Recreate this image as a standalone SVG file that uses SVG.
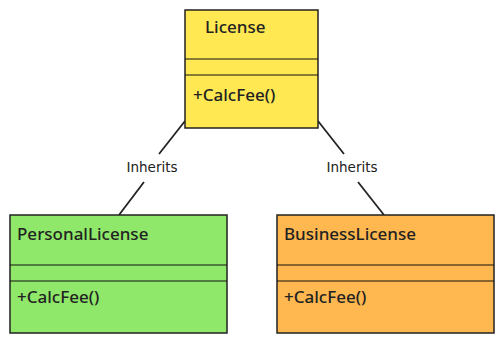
<svg xmlns="http://www.w3.org/2000/svg" width="504" height="344" viewBox="0 0 504 344">
<style>
.box{stroke:#222;stroke-width:1.5}
.div{stroke:#111;stroke-width:1}
.t{font-family:"Noto Sans","DejaVu Sans",sans-serif;font-size:17px;font-weight:500;fill:#222}
.lbl{font-family:"DejaVu Sans",sans-serif;font-size:13.5px;fill:#222;text-anchor:middle}
.edge{stroke:#222;stroke-width:1.8;fill:none}
</style>
<rect width="504" height="344" fill="#fff"/>
<g id="edges">
<line class="edge" x1="185" y1="121" x2="159" y2="154"/>
<line class="edge" x1="144" y1="182" x2="119" y2="215"/>
<text class="lbl" x="152" y="172">Inherits</text>
<line class="edge" x1="318" y1="121" x2="344" y2="154"/>
<line class="edge" x1="358" y1="182" x2="384" y2="215"/>
<text class="lbl" x="352" y="172">Inherits</text>
</g>
<g id="License">
<rect class="box" x="185" y="10" width="133" height="118" fill="#ffe852"/>
<line class="div" x1="185" y1="59" x2="318" y2="59"/>
<line class="div" x1="185" y1="75" x2="318" y2="75"/>
<text class="t" x="205" y="33">License</text>
<text class="t" x="193" y="101">+CalcFee()</text>
</g>
<g id="PersonalLicense">
<rect class="box" x="10" y="215" width="217" height="118" fill="#90e86a"/>
<line class="div" x1="10" y1="265" x2="227" y2="265"/>
<line class="div" x1="10" y1="281" x2="227" y2="281"/>
<text class="t" x="17" y="240">PersonalLicense</text>
<text class="t" x="17" y="303">+CalcFee()</text>
</g>
<g id="BusinessLicense">
<rect class="box" x="277" y="215" width="217" height="118" fill="#ffb74f"/>
<line class="div" x1="277" y1="265" x2="494" y2="265"/>
<line class="div" x1="277" y1="281" x2="494" y2="281"/>
<text class="t" x="284" y="240">BusinessLicense</text>
<text class="t" x="284" y="303">+CalcFee()</text>
</g>
</svg>
